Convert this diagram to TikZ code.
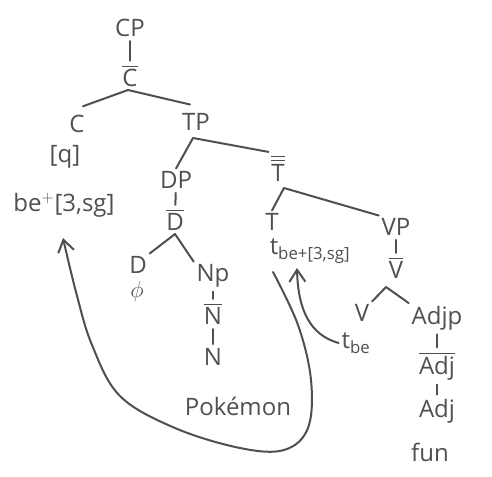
\documentclass[tikz,border=0pt]{standalone}
\usepackage{amsmath}
\usepackage{fontspec}
\setmainfont{Open Sans}
\usetikzlibrary{arrows.meta,calc}
\definecolor{ink}{HTML}{505050}
\begin{document}
\begin{tikzpicture}[x=0.75pt,y=-0.75pt,
  lab/.style={inner sep=2pt,text=ink,font=\fontsize{18}{20}\selectfont},
  edge/.style={draw=ink,line width=1.5pt,line cap=round,line join=round},
  vedge/.style={edge,shorten <=1pt,shorten >=1pt},
  arr/.style={edge,-{Straight Barb[length=9pt,width=12pt,line width=1.5pt]}}]
\useasboundingbox (0,0) rectangle (492,476);
\fill[white] (0,0) rectangle (492,476);
% nodes
\node[lab] (CP) at (130,28) {CP};
\node[lab] (Cbar) at (130,76) {$\overline{\mathrm{C}}$};
\coordinate (a1) at (128,90);
\node[lab] (C) at (77,124) {C};
\node[lab] (TP) at (196,122) {TP};
\node[lab] (q) at (65,157) {[q]};
\node[lab] (beplus) at (64,205) {be$^{+}$[3,sg]};
\coordinate (a2) at (193,138);
\node[lab] (DP) at (176,180) {DP};
\node[lab] (Tbar) at (278,168) {$\overline{\overline{\mathrm{T}}}$};
\node[lab] (Dbar) at (175,220) {$\overline{\mathrm{D}}$};
\coordinate (a3) at (175,234);
\node[lab] (D) at (138,265) {D};
\node[lab] (phi) at (137,292) {$\phi$};
\node[lab] (NP) at (213,276) {Np};
\node[lab] (Nbar) at (213,314) {$\overline{\mathrm{N}}$};
\node[lab] (N) at (213,357) {N};
\node[lab] (Pok) at (238,406) {Pokémon};
\coordinate (a4) at (284,188);
\node[lab] (T) at (272,222) {T};
\node[lab] (tbe3) at (310,251) {t$_{\text{be+[3,sg]}}$};
\node[lab] (VP) at (396,227) {VP};
\node[lab] (Vbar) at (396,268) {$\overline{\mathrm{V}}$};
\coordinate (a5) at (386,287);
\node[lab] (V) at (362,313) {V};
\node[lab] (tbe) at (356,343) {t$_{\text{be}}$};
\node[lab] (AdjP) at (437,318) {Adjp};
\node[lab] (Adjbar) at (437,366) {$\overline{\mathrm{Adj}}$};
\node[lab] (Adj) at (437,411) {Adj};
\node[lab] (fun) at (430,452) {fun};
\coordinate (t3tip) at (297,268);
\coordinate (betip) at (63,238);
% tree edges
\draw[vedge] (CP) -- (Cbar);
\draw[edge] ($(C.north)+(6,-6)$) -- (a1) -- ($(TP.north)+(-6,-6)$);
\draw[edge] (a2) -- (DP.north);
\draw[edge] (a2) -- (Tbar.north west);
\draw[vedge] (DP) -- (Dbar);
\draw[edge] (D.north east) -- (a3) -- (NP.north west);
\draw[vedge] (NP) -- (Nbar);
\draw[vedge] (Nbar) -- (N);
\draw[edge] (T.north) -- (a4) -- (VP.north west);
\draw[vedge] (VP) -- (Vbar);
\draw[edge] (V.north east) -- (a5) -- (AdjP.north west);
\draw[vedge] (AdjP) -- (Adjbar);
\draw[vedge] (Adjbar) -- (Adj);
% movement arrows
\coordinate (s1) at (273,272);
\draw[arr] plot[smooth,tension=0.6] coordinates {(s1) (298,325) (311,380) (308,428) (284,450) (240,448) (175,428) (120,396) (92,345) (76,292) (betip)};
\draw[arr] (tbe.west) .. controls (310,335) and (298,310) .. (t3tip);
\end{tikzpicture}
\end{document}
